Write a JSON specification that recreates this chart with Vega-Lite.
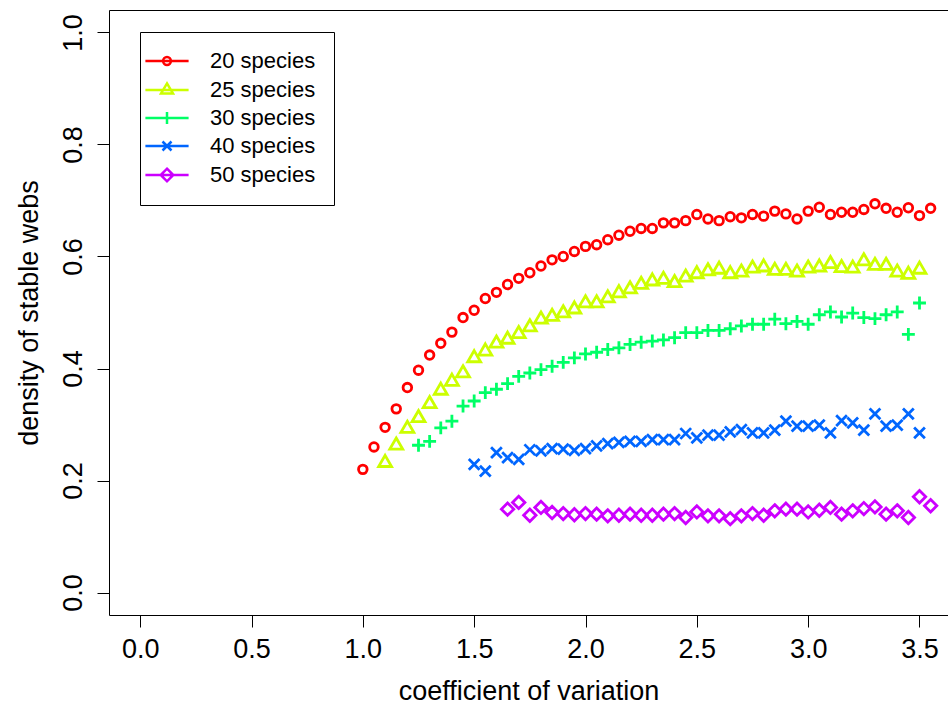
{
  "$schema": "https://vega.github.io/schema/vega-lite/v6.json",
  "autosize": {"type": "none"},
  "padding": {"left": 109, "top": 10, "right": 0, "bottom": 98},
  "width": 839,
  "height": 605,
  "background": "white",
  "config": {"font": "Liberation Sans", "view": {"stroke": null}},
  "data": {"values": [
    {"s":"20 species","x":1.00,"y":0.220},{"s":"20 species","x":1.05,"y":0.260},{"s":"20 species","x":1.10,"y":0.295},{"s":"20 species","x":1.15,"y":0.328},{"s":"20 species","x":1.20,"y":0.366},{"s":"20 species","x":1.25,"y":0.397},{"s":"20 species","x":1.30,"y":0.424},{"s":"20 species","x":1.35,"y":0.445},{"s":"20 species","x":1.40,"y":0.465},{"s":"20 species","x":1.45,"y":0.491},{"s":"20 species","x":1.50,"y":0.504},{"s":"20 species","x":1.55,"y":0.525},{"s":"20 species","x":1.60,"y":0.536},{"s":"20 species","x":1.65,"y":0.550},{"s":"20 species","x":1.70,"y":0.561},{"s":"20 species","x":1.75,"y":0.571},{"s":"20 species","x":1.80,"y":0.583},{"s":"20 species","x":1.85,"y":0.594},{"s":"20 species","x":1.90,"y":0.600},{"s":"20 species","x":1.95,"y":0.609},{"s":"20 species","x":2.00,"y":0.618},{"s":"20 species","x":2.05,"y":0.621},{"s":"20 species","x":2.10,"y":0.630},{"s":"20 species","x":2.15,"y":0.638},{"s":"20 species","x":2.20,"y":0.645},{"s":"20 species","x":2.25,"y":0.650},{"s":"20 species","x":2.30,"y":0.650},{"s":"20 species","x":2.35,"y":0.660},{"s":"20 species","x":2.40,"y":0.660},{"s":"20 species","x":2.45,"y":0.664},{"s":"20 species","x":2.50,"y":0.675},{"s":"20 species","x":2.55,"y":0.667},{"s":"20 species","x":2.60,"y":0.664},{"s":"20 species","x":2.65,"y":0.671},{"s":"20 species","x":2.70,"y":0.669},{"s":"20 species","x":2.75,"y":0.675},{"s":"20 species","x":2.80,"y":0.672},{"s":"20 species","x":2.85,"y":0.681},{"s":"20 species","x":2.90,"y":0.676},{"s":"20 species","x":2.95,"y":0.667},{"s":"20 species","x":3.00,"y":0.681},{"s":"20 species","x":3.05,"y":0.688},{"s":"20 species","x":3.10,"y":0.675},{"s":"20 species","x":3.15,"y":0.679},{"s":"20 species","x":3.20,"y":0.679},{"s":"20 species","x":3.25,"y":0.684},{"s":"20 species","x":3.30,"y":0.694},{"s":"20 species","x":3.35,"y":0.686},{"s":"20 species","x":3.40,"y":0.679},{"s":"20 species","x":3.45,"y":0.687},{"s":"20 species","x":3.50,"y":0.673},{"s":"20 species","x":3.55,"y":0.686},
    {"s":"25 species","x":1.10,"y":0.235},{"s":"25 species","x":1.15,"y":0.266},{"s":"25 species","x":1.20,"y":0.296},{"s":"25 species","x":1.25,"y":0.315},{"s":"25 species","x":1.30,"y":0.340},{"s":"25 species","x":1.35,"y":0.364},{"s":"25 species","x":1.40,"y":0.380},{"s":"25 species","x":1.45,"y":0.395},{"s":"25 species","x":1.50,"y":0.422},{"s":"25 species","x":1.55,"y":0.434},{"s":"25 species","x":1.60,"y":0.448},{"s":"25 species","x":1.65,"y":0.455},{"s":"25 species","x":1.70,"y":0.465},{"s":"25 species","x":1.75,"y":0.477},{"s":"25 species","x":1.80,"y":0.491},{"s":"25 species","x":1.85,"y":0.496},{"s":"25 species","x":1.90,"y":0.502},{"s":"25 species","x":1.95,"y":0.509},{"s":"25 species","x":2.00,"y":0.520},{"s":"25 species","x":2.05,"y":0.520},{"s":"25 species","x":2.10,"y":0.529},{"s":"25 species","x":2.15,"y":0.538},{"s":"25 species","x":2.20,"y":0.545},{"s":"25 species","x":2.25,"y":0.553},{"s":"25 species","x":2.30,"y":0.559},{"s":"25 species","x":2.35,"y":0.562},{"s":"25 species","x":2.40,"y":0.556},{"s":"25 species","x":2.45,"y":0.566},{"s":"25 species","x":2.50,"y":0.572},{"s":"25 species","x":2.55,"y":0.577},{"s":"25 species","x":2.60,"y":0.580},{"s":"25 species","x":2.65,"y":0.572},{"s":"25 species","x":2.70,"y":0.575},{"s":"25 species","x":2.75,"y":0.582},{"s":"25 species","x":2.80,"y":0.584},{"s":"25 species","x":2.85,"y":0.578},{"s":"25 species","x":2.90,"y":0.578},{"s":"25 species","x":2.95,"y":0.575},{"s":"25 species","x":3.00,"y":0.582},{"s":"25 species","x":3.05,"y":0.584},{"s":"25 species","x":3.10,"y":0.590},{"s":"25 species","x":3.15,"y":0.583},{"s":"25 species","x":3.20,"y":0.582},{"s":"25 species","x":3.25,"y":0.595},{"s":"25 species","x":3.30,"y":0.587},{"s":"25 species","x":3.35,"y":0.587},{"s":"25 species","x":3.40,"y":0.575},{"s":"25 species","x":3.45,"y":0.571},{"s":"25 species","x":3.50,"y":0.580},
    {"s":"30 species","x":1.25,"y":0.263},{"s":"30 species","x":1.30,"y":0.270},{"s":"30 species","x":1.35,"y":0.294},{"s":"30 species","x":1.40,"y":0.306},{"s":"30 species","x":1.45,"y":0.333},{"s":"30 species","x":1.50,"y":0.342},{"s":"30 species","x":1.55,"y":0.357},{"s":"30 species","x":1.60,"y":0.363},{"s":"30 species","x":1.65,"y":0.373},{"s":"30 species","x":1.70,"y":0.386},{"s":"30 species","x":1.75,"y":0.392},{"s":"30 species","x":1.80,"y":0.398},{"s":"30 species","x":1.85,"y":0.404},{"s":"30 species","x":1.90,"y":0.411},{"s":"30 species","x":1.95,"y":0.419},{"s":"30 species","x":2.00,"y":0.426},{"s":"30 species","x":2.05,"y":0.429},{"s":"30 species","x":2.10,"y":0.434},{"s":"30 species","x":2.15,"y":0.437},{"s":"30 species","x":2.20,"y":0.443},{"s":"30 species","x":2.25,"y":0.447},{"s":"30 species","x":2.30,"y":0.449},{"s":"30 species","x":2.35,"y":0.451},{"s":"30 species","x":2.40,"y":0.455},{"s":"30 species","x":2.45,"y":0.464},{"s":"30 species","x":2.50,"y":0.464},{"s":"30 species","x":2.55,"y":0.468},{"s":"30 species","x":2.60,"y":0.468},{"s":"30 species","x":2.65,"y":0.471},{"s":"30 species","x":2.70,"y":0.476},{"s":"30 species","x":2.75,"y":0.479},{"s":"30 species","x":2.80,"y":0.479},{"s":"30 species","x":2.85,"y":0.488},{"s":"30 species","x":2.90,"y":0.480},{"s":"30 species","x":2.95,"y":0.484},{"s":"30 species","x":3.00,"y":0.479},{"s":"30 species","x":3.05,"y":0.496},{"s":"30 species","x":3.10,"y":0.501},{"s":"30 species","x":3.15,"y":0.492},{"s":"30 species","x":3.20,"y":0.499},{"s":"30 species","x":3.25,"y":0.491},{"s":"30 species","x":3.30,"y":0.489},{"s":"30 species","x":3.35,"y":0.496},{"s":"30 species","x":3.40,"y":0.501},{"s":"30 species","x":3.45,"y":0.461},{"s":"30 species","x":3.50,"y":0.517},
    {"s":"40 species","x":1.50,"y":0.229},{"s":"40 species","x":1.55,"y":0.217},{"s":"40 species","x":1.60,"y":0.250},{"s":"40 species","x":1.65,"y":0.241},{"s":"40 species","x":1.70,"y":0.238},{"s":"40 species","x":1.75,"y":0.255},{"s":"40 species","x":1.80,"y":0.253},{"s":"40 species","x":1.85,"y":0.257},{"s":"40 species","x":1.90,"y":0.256},{"s":"40 species","x":1.95,"y":0.254},{"s":"40 species","x":2.00,"y":0.257},{"s":"40 species","x":2.05,"y":0.262},{"s":"40 species","x":2.10,"y":0.266},{"s":"40 species","x":2.15,"y":0.268},{"s":"40 species","x":2.20,"y":0.270},{"s":"40 species","x":2.25,"y":0.270},{"s":"40 species","x":2.30,"y":0.273},{"s":"40 species","x":2.35,"y":0.273},{"s":"40 species","x":2.40,"y":0.273},{"s":"40 species","x":2.45,"y":0.284},{"s":"40 species","x":2.50,"y":0.276},{"s":"40 species","x":2.55,"y":0.281},{"s":"40 species","x":2.60,"y":0.281},{"s":"40 species","x":2.65,"y":0.287},{"s":"40 species","x":2.70,"y":0.291},{"s":"40 species","x":2.75,"y":0.285},{"s":"40 species","x":2.80,"y":0.285},{"s":"40 species","x":2.85,"y":0.290},{"s":"40 species","x":2.90,"y":0.306},{"s":"40 species","x":2.95,"y":0.297},{"s":"40 species","x":3.00,"y":0.297},{"s":"40 species","x":3.05,"y":0.299},{"s":"40 species","x":3.10,"y":0.285},{"s":"40 species","x":3.15,"y":0.307},{"s":"40 species","x":3.20,"y":0.303},{"s":"40 species","x":3.25,"y":0.290},{"s":"40 species","x":3.30,"y":0.319},{"s":"40 species","x":3.35,"y":0.297},{"s":"40 species","x":3.40,"y":0.299},{"s":"40 species","x":3.45,"y":0.319},{"s":"40 species","x":3.50,"y":0.285},
    {"s":"50 species","x":1.65,"y":0.149},{"s":"50 species","x":1.70,"y":0.161},{"s":"50 species","x":1.75,"y":0.138},{"s":"50 species","x":1.80,"y":0.152},{"s":"50 species","x":1.85,"y":0.143},{"s":"50 species","x":1.90,"y":0.141},{"s":"50 species","x":1.95,"y":0.139},{"s":"50 species","x":2.00,"y":0.141},{"s":"50 species","x":2.05,"y":0.140},{"s":"50 species","x":2.10,"y":0.137},{"s":"50 species","x":2.15,"y":0.138},{"s":"50 species","x":2.20,"y":0.140},{"s":"50 species","x":2.25,"y":0.138},{"s":"50 species","x":2.30,"y":0.138},{"s":"50 species","x":2.35,"y":0.140},{"s":"50 species","x":2.40,"y":0.141},{"s":"50 species","x":2.45,"y":0.134},{"s":"50 species","x":2.50,"y":0.144},{"s":"50 species","x":2.55,"y":0.137},{"s":"50 species","x":2.60,"y":0.137},{"s":"50 species","x":2.65,"y":0.132},{"s":"50 species","x":2.70,"y":0.137},{"s":"50 species","x":2.75,"y":0.141},{"s":"50 species","x":2.80,"y":0.138},{"s":"50 species","x":2.85,"y":0.146},{"s":"50 species","x":2.90,"y":0.149},{"s":"50 species","x":2.95,"y":0.149},{"s":"50 species","x":3.00,"y":0.144},{"s":"50 species","x":3.05,"y":0.147},{"s":"50 species","x":3.10,"y":0.152},{"s":"50 species","x":3.15,"y":0.140},{"s":"50 species","x":3.20,"y":0.146},{"s":"50 species","x":3.25,"y":0.150},{"s":"50 species","x":3.30,"y":0.153},{"s":"50 species","x":3.35,"y":0.140},{"s":"50 species","x":3.40,"y":0.146},{"s":"50 species","x":3.45,"y":0.134},{"s":"50 species","x":3.50,"y":0.171},{"s":"50 species","x":3.55,"y":0.155}
  ]},
  "layer": [
    {
      "mark": {"type": "point", "filled": false, "strokeWidth": 2.8, "size": 160, "opacity": 1},
      "encoding": {
        "x": {"field": "x", "type": "quantitative",
          "scale": {"domain": [-0.14, 3.628], "nice": false, "zero": false},
          "axis": {"orient": "bottom", "values": [0, 0.5, 1, 1.5, 2, 2.5, 3, 3.5], "format": ".1f",
            "grid": false, "domain": true, "domainColor": "black", "domainWidth": 1,
            "ticks": true, "tickSize": 12, "tickColor": "black", "tickWidth": 1,
            "labelFontSize": 27, "labelColor": "black", "labelPadding": 9, "labelFlush": false, "labelOverlap": false,
            "title": "coefficient of variation", "titleFontSize": 27, "titleFontWeight": "normal", "titleColor": "black", "titlePadding": 16}},
        "y": {"field": "y", "type": "quantitative",
          "scale": {"domain": [-0.04, 1.04], "nice": false, "zero": false},
          "axis": {"orient": "left", "values": [0, 0.2, 0.4, 0.6, 0.8, 1.0], "format": ".1f",
            "grid": false, "domain": true, "domainColor": "black", "domainWidth": 1,
            "ticks": true, "tickSize": 12, "tickColor": "black", "tickWidth": 1,
            "labelAngle": -90, "labelAlign": "center", "labelBaseline": "bottom",
            "labelFontSize": 27, "labelColor": "black", "labelPadding": 10, "labelFlush": false, "labelOverlap": false,
            "title": "density of stable webs", "titleFontSize": 27, "titleFontWeight": "normal", "titleColor": "black", "titlePadding": 16}},
        "color": {"field": "s", "type": "nominal",
          "scale": {"domain": ["20 species", "25 species", "30 species", "40 species", "50 species"], "range": ["#FF0000", "#CCFF00", "#00FF66", "#0066FF", "#CC00FF"]},
          "legend": null},
        "shape": {"field": "s", "type": "nominal",
          "scale": {"domain": ["20 species", "25 species", "30 species", "40 species", "50 species"],
            "range": ["M0.68,0A0.68,0.68,0,1,1,-0.68,0A0.68,0.68,0,1,1,0.68,0Z", "M0,-0.88L1.02,0.88L-1.02,0.88Z", "M-1.02,0L1.02,0M0,-1.02L0,1.02", "M-0.85,-0.85L0.85,0.85M0.85,-0.85L-0.85,0.85", "M0,-0.98L0.98,0L0,0.98L-0.98,0Z"]},
          "legend": null}
      }
    },
    {
      "mark": {"type": "point", "filled": false, "strokeWidth": 2.5, "size": 144, "opacity": 0},
      "encoding": {
        "x": {"field": "x", "type": "quantitative",
          "axis": {"orient": "top", "labels": false, "ticks": false, "grid": false, "domain": true, "domainColor": "black", "domainWidth": 1, "title": null}},
        "y": {"field": "y", "type": "quantitative", "axis": null},
        "color": {"field": "s", "type": "nominal",
          "scale": {"domain": ["20 species", "25 species", "30 species", "40 species", "50 species"], "range": ["#FF0000", "#CCFF00", "#00FF66", "#0066FF", "#CC00FF"]},
          "legend": {"orient": "none", "legendX": 31, "legendY": 22, "title": null,
            "strokeColor": "black", "fillColor": "white", "padding": 18, "symbolOffset": -2,
            "symbolSize": 144, "symbolStrokeWidth": 2.5, "symbolOpacity": 1,
            "labelFontSize": 22, "labelColor": "black", "labelOffset": 32, "rowPadding": 6, "labelLimit": 0}},
        "shape": {"field": "s", "type": "nominal",
          "scale": {"domain": ["20 species", "25 species", "30 species", "40 species", "50 species"],
            "range": ["M-3.6,0L3.6,0M0.65,0A0.65,0.65,0,1,1,-0.65,0A0.65,0.65,0,1,1,0.65,0", "M-3.6,0L3.6,0M0,-1.1L1,0.6L-1,0.6Z", "M-3.6,0L3.6,0M0,-1L0,1", "M-3.6,0L3.6,0M-0.75,-0.75L0.75,0.75M0.75,-0.75L-0.75,0.75", "M-3.6,0L3.6,0M0,-1.05L1.05,0L0,1.05L-1.05,0Z"]},
          "legend": {"orient": "none", "legendX": 31, "legendY": 22, "title": null,
            "strokeColor": "black", "fillColor": "white", "padding": 18, "symbolOffset": -2,
            "symbolSize": 144, "symbolStrokeWidth": 2.5, "symbolOpacity": 1,
            "labelFontSize": 22, "labelColor": "black", "labelOffset": 32, "rowPadding": 6, "labelLimit": 0}}
      }
    }
  ],
  "resolve": {
    "scale": {"color": "independent", "shape": "independent"},
    "axis": {"x": "independent", "y": "independent"}
  }
}
